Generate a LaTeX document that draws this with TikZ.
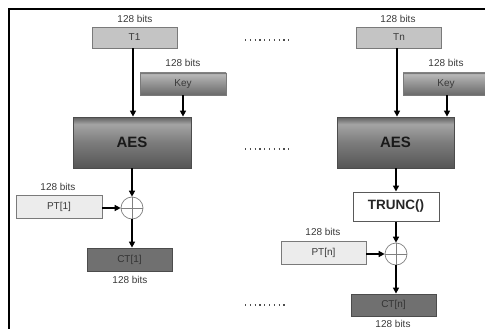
\documentclass[tikz,border=0pt]{standalone}
\usepackage{fontspec}
\setmainfont{Liberation Sans}
\usetikzlibrary{arrows.meta,shadings}
\definecolor{tone}{HTML}{C4C4C4}
\definecolor{ptfill}{HTML}{ECECEC}
\definecolor{ctfill}{HTML}{707070}
\definecolor{bordergray}{HTML}{7A7A7A}
\definecolor{txtgray}{HTML}{3A3A3A}
\definecolor{aesA}{HTML}{5E5E5E}
\definecolor{aesB}{HTML}{A4A4A4}
\definecolor{aesC}{HTML}{7C7C7C}
\definecolor{aesD}{HTML}{565656}
\definecolor{keyA}{HTML}{6A6A6A}
\definecolor{keyB}{HTML}{9A9A9A}
\definecolor{keyC}{HTML}{B8B8B8}
\pgfdeclareverticalshading{aesshade}{100bp}{color(0bp)=(aesD); color(25bp)=(aesD); color(50bp)=(aesC); color(68bp)=(aesB); color(75bp)=(aesA); color(100bp)=(aesA)}
\pgfdeclareverticalshading{keyshade}{100bp}{color(0bp)=(keyA); color(25bp)=(keyA); color(55bp)=(keyB); color(72bp)=(keyC); color(75bp)=(keyB); color(100bp)=(keyB)}
\tikzset{
  box/.style={draw=bordergray, line width=0.8pt, inner sep=0pt, font=\fontsize{10}{11}\selectfont, text=txtgray},
  tbox/.style={box, fill=tone, minimum width=85pt, minimum height=21pt},
  keybox/.style={box, shading=keyshade, minimum width=86pt, minimum height=22pt},
  aesbox/.style={draw=black!70, line width=0.8pt, shading=aesshade, minimum width=118pt, minimum height=51pt, font=\fontsize{15}{17}\bfseries\selectfont, text=black!90},
  ptbox/.style={box, fill=ptfill, minimum width=86pt, minimum height=23pt},
  ctbox/.style={box, draw=black!70, fill=ctfill, text=black!80, minimum width=85pt, minimum height=23pt},
  truncbox/.style={draw=black!65, line width=1pt, fill=white, minimum width=86pt, minimum height=29pt, font=\fontsize{13.5}{15}\bfseries\selectfont, text=black!85},
  xorc/.style={circle, draw=gray, fill=white, line width=0.7pt, minimum size=22pt, inner sep=0pt},
  bitlbl/.style={font=\fontsize{10}{11}\selectfont, text=txtgray, inner sep=0pt},
  arr/.style={line width=1.6pt, -{Triangle[length=6pt,width=6pt]}},
  dotline/.style={line width=1.2pt, dash pattern=on 1.2pt off 3.6pt, black!70}
}
\newcommand{\xorcross}[1]{\draw[gray, line width=0.6pt] (#1.north) -- (#1.south) (#1.west) -- (#1.east);}
\begin{document}
\begin{tikzpicture}[x=1pt,y=-1pt]
\useasboundingbox (0,0) rectangle (485,329);
\clip (0,0) rectangle (485,329);
\draw[line width=1.5pt] (9,331) -- (9,9) -- (487,9);

% left column
\node[tbox] (T1) at (134.5,37.5) {T1};
\node[keybox] (K1) at (183,84) {Key};
\node[aesbox] (A1) at (132,142.5) {AES};
\node[xorc] (X1) at (132,208) {};
\xorcross{X1}
\node[ptbox] (P1) at (59,207) {PT[1]};
\node[ctbox] (C1) at (129.5,259.5) {CT[1]};
\node[bitlbl] (b1) at (135,19) {128 bits};
\node[bitlbl] (b2) at (183,63) {128 bits};
\node[bitlbl] (b3) at (58,187) {128 bits};
\node[bitlbl] (b4) at (130,279.5) {128 bits};

\draw[arr] (T1.south -| 133,0) -- (133,0 |- A1.north);
\draw[arr] (K1.south) -- (K1 |- A1.north);
\draw[arr] (A1.south -| X1) -- (X1.north);
\draw[arr] (P1.east |- X1) -- (X1.west);
\draw[arr] (X1.south) -- (X1 |- C1.north);

% right column
\node[tbox] (Tn) at (399,37.5) {Tn};
\node[keybox, minimum width=86pt] (Kn) at (446,84) {Key};
\node[aesbox, minimum width=117pt] (An) at (395.5,142.5) {AES};
\node[truncbox] (Tr) at (396,206.5) {TRUNC()};
\node[xorc] (Xn) at (396,254) {};
\xorcross{Xn}
\node[ptbox, minimum width=85pt] (Pn) at (323.5,253) {PT[n]};
\node[ctbox, minimum height=22pt] (Cn) at (393.5,305) {CT[n]};
\node[bitlbl] (b5) at (398,19) {128 bits};
\node[bitlbl] (b6) at (446,63) {128 bits};
\node[bitlbl] (b7) at (323,232) {128 bits};
\node[bitlbl] (b8) at (393,324) {128 bits};

\draw[arr] (Tn.south -| 397,0) -- (397,0 |- An.north);
\draw[arr] (Kn.south -| 447,0) -- (447,0 |- An.north);
\draw[arr] (An.south -| Tr) -- (Tr.north);
\draw[arr] (Tr.south -| Xn) -- (Xn.north);
\draw[arr] (Pn.east |- Xn) -- (Xn.west);
\draw[arr] (Xn.south) -- (Xn |- Cn.north);

% ellipses
\coordinate (d1a) at (245,40); \coordinate (d1b) at (292,40);
\coordinate (d2a) at (245,149); \coordinate (d2b) at (292,149);
\coordinate (d3a) at (245,305); \coordinate (d3b) at (286,305);
\draw[dotline] (d1a) -- (d1b);
\draw[dotline] (d2a) -- (d2b);
\draw[dotline] (d3a) -- (d3b);
\end{tikzpicture}
\end{document}
